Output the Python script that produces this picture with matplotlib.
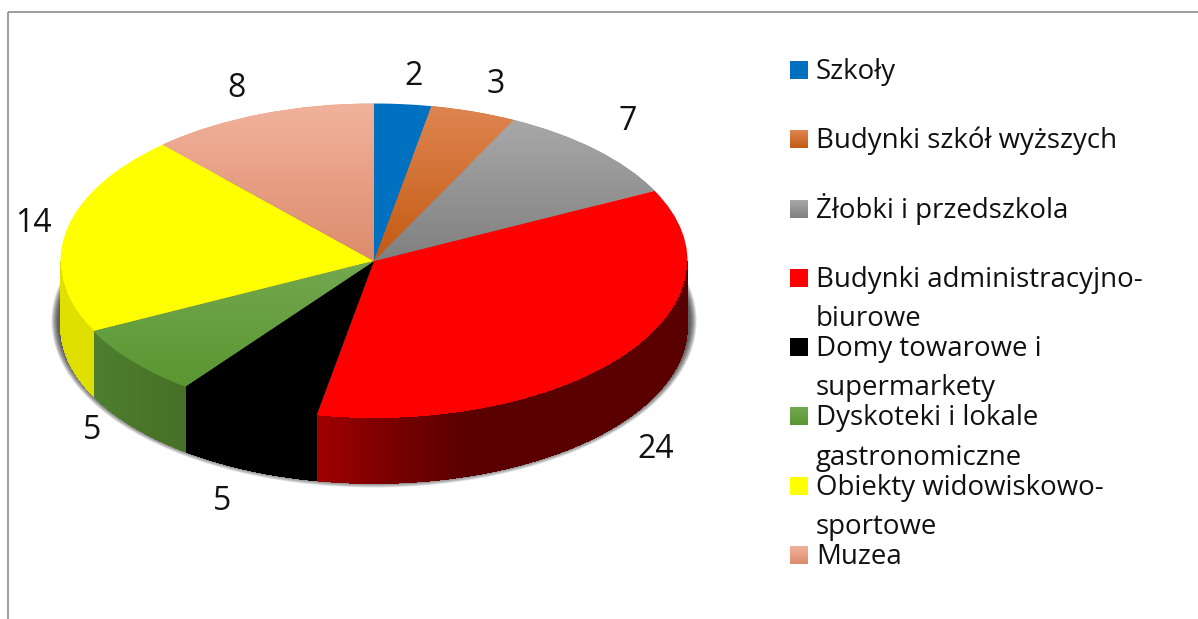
import numpy as np
import matplotlib
matplotlib.use("Agg")
import matplotlib.pyplot as plt
from matplotlib.patches import Ellipse, Rectangle, Polygon
from matplotlib.collections import PolyCollection
from matplotlib.colors import to_rgb, LinearSegmentedColormap

# ---- data -------------------------------------------------------------
categories = ["Szkoły", "Budynki szkół wyższych", "Żłobki i przedszkola",
              "Budynki administracyjno-\nbiurowe", "Domy towarowe i\nsupermarkety",
              "Dyskoteki i lokale\ngastronomiczne", "Obiekty widowiskowo-\nsportowe", "Muzea"]
values = [2, 3, 7, 24, 5, 5, 14, 8]

# ---- style ------------------------------------------------------------
top_light = ["#0070C0", "#DE8552", "#A8A8A8", "#FF0000", "#000000", "#72A84F", "#FFFF00", "#F1B29C"]
top_dark = ["#0070C0", "#C55A11", "#808080", "#FF0000", "#000000", "#5A9631", "#FFFF00", "#DD8C6C"]
wall_start = ["#000000", "#000000", "#000000", "#5A0000", "#000000", "#477026", "#E0E000", "#000000"]
wall_end = ["#000000", "#000000", "#000000", "#A00000", "#000000", "#4D7F2E", "#E0E000", "#000000"]
label_offsets_px = [(11, -27.5), (22, -27.5), (32, -28.5), (32, 93.5), (-25, 96.5), (-41, 68.5), (-32, -8.5), (-24, -25.5)]

W, H = 1198, 619
CX, CY, RX, RY, DEPTH = 374, 261, 313.5, 157.5, 65
LABEL_FONT = 23
LEGEND_FONT = 19.9
FONT = "Open Sans"

fig = plt.figure(figsize=(W / 100, H / 100), dpi=100, facecolor="white")

# pixel-space overlay for frame and legend
pg = fig.add_axes([0, 0, 1, 1], zorder=3)
pg.set_xlim(0, W)
pg.set_ylim(H, 0)
pg.axis("off")
pg.patch.set_alpha(0)

# pie axes: the unit circle fills the box of the ellipse
ax = fig.add_axes([(CX - RX) / W, 1 - (CY + RY) / H, 2 * RX / W, 2 * RY / H], zorder=2)
wedges, _ = ax.pie(values, startangle=90, counterclock=False, radius=1,
                   colors=top_dark, wedgeprops=dict(linewidth=0))
ax.set_aspect("auto")
ax.set_xlim(-1, 1)
ax.set_ylim(-1, 1)
ax.axis("off")

# soft shadow hugging the lower rim
d = DEPTH / RY
for k in range(7):
    grow = 6 - k
    ax.add_patch(Ellipse((0, -60 / RY), 2 * (RX + 3 + grow) / RX, 2 * (RY + 3 + grow) / RY,
                         facecolor="black", alpha=0.13, linewidth=0, zorder=0.5, clip_on=False))

# side wall, built from the slice angles
edges = np.cumsum([0] + values) / sum(values) * 2 * np.pi
for i in range(len(values)):
    lo, hi = max(edges[i], np.pi / 2), min(edges[i + 1], 3 * np.pi / 2)
    if hi <= lo:
        continue
    ts = np.linspace(lo, hi, max(3, int(np.degrees(hi - lo)) * 2 + 1))
    x, y = np.sin(ts), np.cos(ts)
    c0, c1 = np.array(to_rgb(wall_start[i])), np.array(to_rgb(wall_end[i]))
    # antialiased base below the shading strips, so no seams show through
    base = list(zip(x, y)) + list(zip(x[::-1], y[::-1] - d))
    ax.add_patch(Polygon(base, closed=True, facecolor=(c0 + c1) / 2, linewidth=0, zorder=0.9, clip_on=False))
    polys, cols = [], []
    for j in range(len(ts) - 1):
        polys.append([(x[j], y[j]), (x[j + 1], y[j + 1]), (x[j + 1], y[j + 1] - d), (x[j], y[j] - d)])
        f = j / (len(ts) - 2)
        if values[i] == max(values):
            # stays dark over the right part, brightens towards the front edge
            xm = (x[j] + x[j + 1]) / 2
            f = np.clip((0.306 - xm) / 0.49, 0, 1) ** 1.2
        cols.append(c0 + (c1 - c0) * f)
    ax.add_collection(PolyCollection(polys, facecolors=cols, edgecolors="none", linewidths=0,
                                     antialiaseds=False, zorder=1, clip_on=False))

# top face gradients, clipped to each wedge
for i, w in enumerate(wedges):
    if top_light[i] == top_dark[i]:
        continue
    pts = w.get_patch_transform().transform(w.get_path().vertices)
    cmap = LinearSegmentedColormap.from_list("g", [top_light[i], top_dark[i]])
    im = ax.imshow(np.linspace(0, 1, 128)[:, None], cmap=cmap, aspect="auto", interpolation="bilinear",
                   extent=(pts[:, 0].min(), pts[:, 0].max(), pts[:, 1].min(), pts[:, 1].max()),
                   origin="upper", zorder=w.get_zorder() + 0.1)
    im.set_clip_path(w)
ax.set_aspect("auto")
ax.set_xlim(-1, 1)
ax.set_ylim(-1, 1)

# data labels, anchored at the middle of each slice's rim
for i, v in enumerate(values):
    t = (edges[i] + edges[i + 1]) / 2
    ax.annotate(str(v), xy=(np.sin(t), np.cos(t)), xycoords="data",
                xytext=(label_offsets_px[i][0] * 0.72, -label_offsets_px[i][1] * 0.72),
                textcoords="offset points", ha="center", va="center",
                fontsize=LABEL_FONT, family=FONT, color="#111111", annotation_clip=False)

# frame: left and top edges, running off the picture
pg.add_patch(Rectangle((7.5, 11.5), W + 20, H + 20, fill=False, edgecolor="#8E8E8E", linewidth=1.2))

# legend
LEG_X, LEG_Y0, LEG_STEP, SWATCH, LINE_GAP = 790, 70, 69.3, 18, 39
for i, name in enumerate(categories):
    yc = LEG_Y0 + i * LEG_STEP
    grad = LinearSegmentedColormap.from_list("l", [top_light[i], top_dark[i]])
    pg.imshow(np.linspace(0, 1, 32)[:, None], cmap=grad, aspect="auto", interpolation="bilinear",
              extent=(LEG_X, LEG_X + SWATCH, yc + SWATCH / 2, yc - SWATCH / 2))
    for n, line in enumerate(name.split("\n")):
        pg.text(LEG_X + 26, yc + 9 + n * LINE_GAP, line, ha="left", va="baseline",
                fontsize=LEGEND_FONT, family=FONT, color="#111111")
pg.set_xlim(0, W)
pg.set_ylim(H, 0)
pg.set_aspect("auto")

fig.savefig("out.png", dpi=100, facecolor="white")
